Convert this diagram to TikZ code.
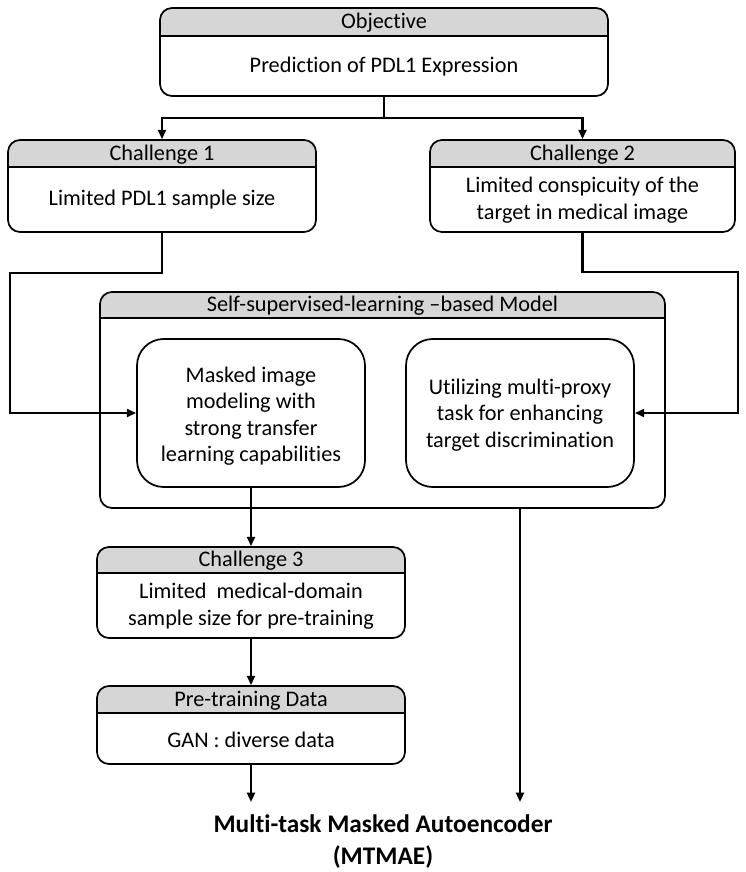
\documentclass[tikz,border=0pt]{standalone}
\usepackage{fontspec}
\setmainfont{Carlito}[Ligatures=NoCommon]
\usetikzlibrary{fit,arrows.meta}
\definecolor{hdr}{RGB}{214,214,214}
\tikzset{
  box/.style={draw, line width=1.3pt, rounded corners=9pt, inner sep=0pt},
  ibox/.style={draw, line width=1.3pt, rounded corners=20pt, inner sep=0pt},
  txt/.style={font=\fontsize{16.7}{19.8}\selectfont, align=center, inner sep=0pt},
  conn/.style={line width=1.6pt, -{Triangle[length=7pt,width=6pt]}},
  plain/.style={line width=1.6pt}
}
\newcommand{\hdrbox}[7]{%
  \begin{scope}
    \clip[rounded corners=9pt] (#2,#3) rectangle (#4,#5);
    \fill[hdr] (#2,#3) rectangle (#4,#6);
  \end{scope}
  \draw[line width=1.3pt] (#2,#6) -- (#4,#6);
  \node[box, fit={(#2,#3) (#4,#5)}] (#1) {};
  \node[txt] (#1-title) at ({(#2+#4)/2},{(#3+#6)/2+1}) {#7};
}
\begin{document}
\begin{tikzpicture}[x=0.75pt,y=-0.75pt]
\useasboundingbox (0,0) rectangle (746,872);

% Objective
\hdrbox{obj}{160}{8}{608}{96}{36}{Objective}
\node[txt] (objbody) at (384,67) {Prediction of PDL1 Expression};

% Challenge 1
\hdrbox{chA}{8}{140}{316}{232}{167}{Challenge 1}
\node[txt] (chAbody) at (162,200) {Limited PDL1 sample size};

% Challenge 2
\hdrbox{chB}{430}{140}{735}{232}{167}{Challenge 2}
\node[txt] (chBbody) at (582.5,200) {Limited conspicuity of the\\target in medical image};

% SSL model
\hdrbox{ssl}{100}{292}{665}{508}{318}{Self-supervised-learning \textendash based Model}
\node[ibox, fit={(137,339) (365,487)}] (mask) {};
\node[txt] (masktxt) at (251,416) {Masked image\\modeling with\\strong transfer\\learning capabilities};
\node[ibox, fit={(406,339) (634,487)}] (util) {};
\node[txt] (utiltxt) at (520,415) {Utilizing multi-proxy\\task for enhancing\\target discrimination};

% Challenge 3
\hdrbox{chC}{97}{547}{405}{638}{573}{Challenge 3}
\node[txt] (chCbody) at (251,606) {Limited~ medical-domain\\sample size for pre-training};

% Pre-training data
\hdrbox{pre}{97}{686}{405}{764}{713}{Pre-training Data}
\node[txt] (prebody) at (251,740) {GAN : diverse data};

% Final
\node[font=\fontsize{19}{24}\selectfont\bfseries, align=center, inner sep=0pt] (final) at (383,842) {Multi-task Masked Autoencoder\\(MTMAE)};

% connectors
\coordinate (j) at (384,118);
\draw[conn] (obj.south) -- (obj.south |- j) -| (chA.north);
\draw[conn] (obj.south) -- (obj.south |- j) -| (chB.north);

\coordinate (lA) at (10,273);
\draw[conn] (chA.south) |- (lA) |- (mask.west);
\coordinate (lB) at (738,272);
\draw[conn] (chB.south) |- (lB) |- (util.east);

\draw[conn] (mask.south) -- (chC.north);
\draw[conn] (chC.south) -- (pre.north);
\coordinate (endL) at (251,802);
\draw[conn] (pre.south) -- (endL);
\coordinate (endR) at (520,802);
\draw[conn] (ssl.south -| endR) -- (endR);
\end{tikzpicture}
\end{document}
